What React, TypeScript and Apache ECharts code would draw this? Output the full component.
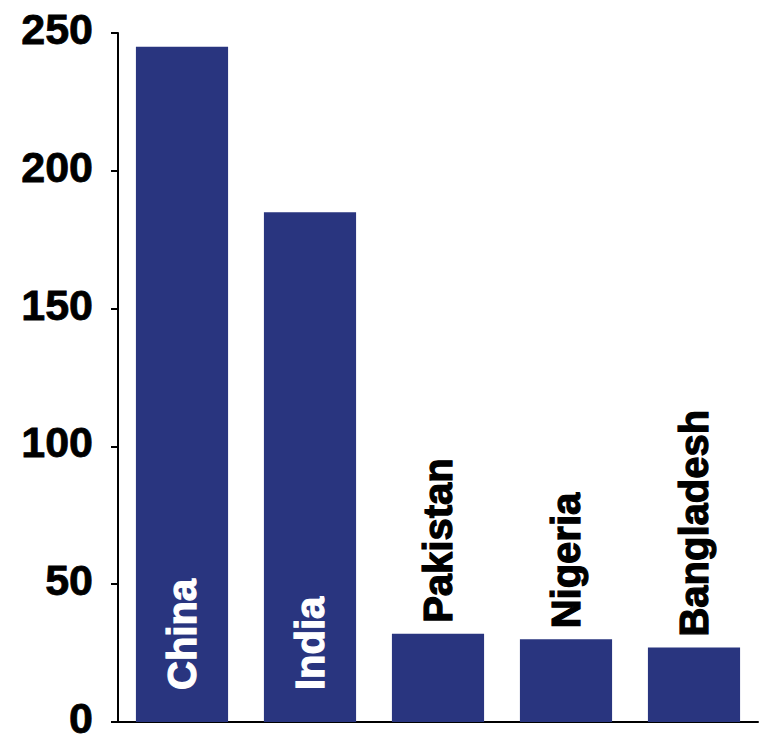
import React, { useEffect, useRef } from "react";
import * as echarts from "echarts";

const categories = ["China", "India", "Pakistan", "Nigeria", "Bangladesh"];
const values = [245, 185, 32, 30, 27];
const insideLabels = ["China", "India"];
const yTicks = { min: 0, max: 250, interval: 50 };

const BAR = "#29357f";
const FONT = "'Liberation Sans', Arial, sans-serif";

export default function App() {
  const ref = useRef<HTMLDivElement>(null);
  useEffect(() => {
    if (!ref.current) return;
    const chart = echarts.init(ref.current, undefined, { renderer: "svg" });
    const data = values.map((v, i) => {
      const inside = insideLabels.includes(categories[i]);
      return {
        value: v,
        label: inside
          ? {
              position: "insideBottom",
              distance: 32,
              color: "#ffffff",
              textBorderColor: "#ffffff",
              textBorderWidth: 1.2,
            }
          : {
              position: "top",
              distance: 11,
              color: "#000000",
              textBorderColor: "#000000",
              textBorderWidth: 1.2,
            },
      };
    });
    chart.setOption({
      animation: false,
      grid: { left: 118, right: 22, top: 33, bottom: 22, containLabel: false },
      xAxis: {
        type: "category",
        data: categories,
        axisLine: { show: true, lineStyle: { color: "#000", width: 2 } },
        axisTick: { show: false },
        axisLabel: { show: false },
      },
      yAxis: {
        type: "value",
        min: yTicks.min,
        max: yTicks.max,
        interval: yTicks.interval,
        splitLine: { show: false },
        axisLine: { show: true, lineStyle: { color: "#000", width: 2 } },
        axisTick: { show: true, length: 7, lineStyle: { color: "#000", width: 2 } },
        axisLabel: {
          margin: 25,
          color: "#000",
          fontSize: 43,
          lineHeight: 8,
          verticalAlign: "bottom",
          fontWeight: "bold",
          fontFamily: FONT,
          textBorderColor: "#000",
          textBorderWidth: 0.8,
        },
      },
      series: [
        {
          type: "bar",
          data,
          barCategoryGap: "28%",
          itemStyle: { color: BAR },
          label: {
            show: true,
            formatter: (p: any) => p.name,
            rotate: 90,
            align: "left",
            verticalAlign: "middle",
            fontSize: 40,
            fontWeight: "bold",
            fontFamily: FONT,
          },
        },
      ],
    });
    return () => chart.dispose();
  }, []);
  return (
    <div
      ref={ref}
      style={{ position: "absolute", left: 0, top: 0, width: 780, height: 744 }}
    />
  );
}
